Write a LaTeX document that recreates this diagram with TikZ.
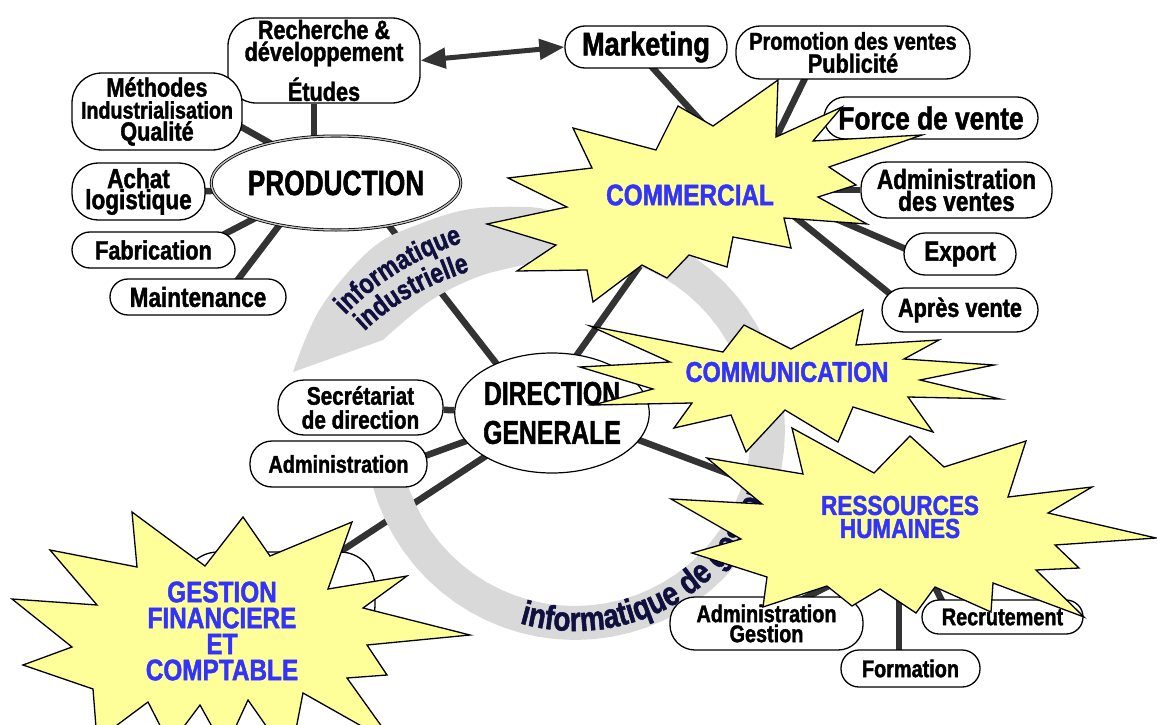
\documentclass[tikz,border=0pt]{standalone}
\usepackage{fontspec}
\newfontfamily\cfa[FakeStretch=0.82,FakeBold=1.5]{Liberation Sans Bold}
\newfontfamily\cfb[FakeStretch=0.75,FakeBold=1.5]{Liberation Sans Bold}
\usetikzlibrary{arrows.meta,decorations.text,shapes.geometric,calc}
\definecolor{linegray}{HTML}{333333}
\definecolor{bandgray}{HTML}{D9D9D9}
\definecolor{staryellow}{HTML}{FFFF99}
\definecolor{starblue}{HTML}{3333FF}
\definecolor{bandnavy}{HTML}{10103F}
\newcommand{\myfs}[2]{\fontsize{#1}{#2}\selectfont}
\newcommand{\bandfont}{\color{bandnavy}\cfa\myfs{34}{34}}
\newcommand{\bandfontb}{\color{bandnavy}\cfa\myfs{28}{28}}
\pgfdeclarelayer{lines}
\pgfdeclarelayer{band}
\pgfdeclarelayer{top}
\pgfsetlayers{lines,band,main,top}
\begin{document}
\begin{tikzpicture}[x=1pt,y=-1pt,
  rbox/.style={draw=black, line width=1.3pt, fill=white, rounded corners=#1, align=center, inner sep=0pt},
  fs/.style 2 args={font=\cfa\myfs{#1}{#2}},
  fsb/.style 2 args={font=\cfb\myfs{#1}{#2}},
  oval/.style={ellipse, draw=black, fill=white, align=center, inner sep=0pt},
  conn/.style={draw=linegray, line width=6.5pt},
  starshape/.style={fill=staryellow, draw=black, line width=1.3pt},
  startext/.style={text=starblue, align=center, inner sep=0pt}]
\useasboundingbox (0,0) rectangle (1157,725);

% ---------- boxes ----------
\node[rbox=28pt, fs={26.4}{22}, minimum width=192pt, minimum height=85pt] (rd) at (324,60.5) {Recherche \&\\développement\\[10pt]Études};
\node[rbox=30pt, fs={26.4}{22}, minimum width=170pt, minimum height=77pt] (meth) at (157,111.5) {Méthodes\\{\myfs{24}{22}Industrialisation}\\Qualité};
\node[rbox=26pt, fs={27.5}{21}, minimum width=133pt, minimum height=57pt] (achat) at (138.5,191.5) {Achat\\logistique};
\node[rbox=18pt, fs={26.4}{26}, minimum width=163pt, minimum height=36pt] (fab) at (153.5,250) {Fabrication};
\node[rbox=18pt, fs={27.5}{27}, minimum width=176pt, minimum height=36pt] (maint) at (198,297) {Maintenance};
\node[oval, fsb={35}{35}, minimum width=212pt, minimum height=94pt, line width=0.8pt, double=gray!50, double distance=1.4pt] (prod) at (336,183) {PRODUCTION};
\node[rbox=20pt, fs={33}{33}, minimum width=162pt, minimum height=42pt] (mkt) at (646,47) {Marketing};
\node[rbox=24pt, fs={24.2}{23}, minimum width=234pt, minimum height=53pt] (promo) at (853,52.5) {Promotion des ventes\\{\myfs{26.4}{23}Publicité}};
\node[rbox=21pt, fs={32}{32}, minimum width=214pt, minimum height=42pt] (force) at (931,118) {Force de vente};
\node[rbox=26pt, fs={27.5}{22}, minimum width=191pt, minimum height=56pt] (admv) at (956.5,190) {Administration\\des ventes};
\node[rbox=21pt, fs={27.5}{27}, minimum width=112pt, minimum height=42pt] (export) at (960,254) {Export};
\node[rbox=22pt, fs={26.4}{26}, minimum width=156pt, minimum height=44pt] (apres) at (960,310) {Après vente};
\node[rbox=26pt, fs={25.3}{24}, minimum width=165pt, minimum height=55pt] (sec) at (360.5,407.5) {Secrétariat\\de direction};
\node[rbox=22pt, fs={24.2}{24}, minimum width=177pt, minimum height=46pt] (adm) at (338.5,464) {Administration};
\node[oval, fsb={33}{39}, minimum width=190pt, minimum height=120pt, line width=1.2pt] (dg) at (552,413) {DIRECTION\\GENERALE};
\node[rbox=25pt, fs={24.2}{20}, minimum width=193pt, minimum height=53pt] (admg) at (766.5,623.5) {Administration\\Gestion};
\node[rbox=18pt, fs={24.2}{24}, minimum width=139pt, minimum height=37pt] (form) at (910.5,668.5) {Formation};
\node[rbox=17pt, fs={24.2}{24}, minimum width=161pt, minimum height=34pt] (recr) at (1002.5,617) {Recrutement};
\node[rbox=35pt, minimum width=192pt, minimum height=88pt] (fin) at (279,596) {};

\coordinate (comm) at (690,195);
\coordinate (commu) at (787,372);
\coordinate (rh) at (900,517);
\coordinate (gf) at (222,631);

% ---------- connectors ----------
\begin{pgfonlayer}{lines}
\draw[conn] ([xshift=-10pt]rd.south) -- ($(prod)+(-22,0)$);
\draw[conn] ($(meth)+(80,13)$) -- ($(prod)+(-36,-23)$);
\draw[conn] ($(achat)+(60,0)$) -- ($(prod)+(-76,6)$);
\draw[conn] ($(fab)+(61.5,-11)$) -- ($(prod)+(-46,17)$);
\draw[conn] ($(maint)+(32,-7)$) -- ($(prod)+(-36,15)$);
\draw[conn] ($(prod)+(33,17)$) -- ($(dg)+(-35,-23)$);
\draw[conn] ($(mkt)+(-5,8)$) -- ($(comm)+(30,-53)$);
\draw[conn] ($(promo)+(-44,17.5)$) -- ($(comm)+(80,-45)$);
\draw[conn] (admv) -- ($(comm)+(128,-5)$);
\draw[conn] ($(export)+(-45,-1)$) -- ($(comm)+(130,17)$);
\draw[conn] ($(apres)+(-55,-4)$) -- ($(comm)+(100,18)$);
\draw[conn] ($(dg)+(-7,-13)$) -- (comm);
\draw[conn] (sec) -- (dg);
\draw[conn] ($(adm)+(61.5,1)$) -- ($(dg)+(-72,23)$);
\draw[conn] ($(dg)+(-47,30.5)$) -- ($(fin)+(41,-31)$);
\draw[conn] ($(dg)+(68,20)$) -- ($(rh)+(0,21)$);
\draw[conn] ($(admg)+(33.5,-23)$) -- ($(rh)+(-40,53)$);
\draw[conn] ($(form)+(-11.5,-8)$) -- ($(rh)+(-1,40)$);
\draw[conn] ($(recr)+(-55,-5)$) -- ($(rh)+(30,60)$);
\draw[linegray, line width=5pt, {Triangle[length=25pt,width=20pt]}-{Triangle[length=25pt,width=20pt]}] (rd.east) -- (mkt.west);
\end{pgfonlayer}

% ---------- grey circular arrow ----------
\begin{pgfonlayer}{band}
\fill[bandgray] plot[samples at={170,165,...,-85}] ({575+210*cos(\x)},{430+210*sin(\x)})
  -- plot[smooth, tension=0.6] coordinates {(555.8,212.8) (531.3,207.2) (471,209) (418.5,224.4) (371.4,248.7) (320.6,307.9) (293,372)}
  -- (383,340)
  -- plot[smooth, tension=0.6] coordinates {(383,340) (430,301) (480,276) (530,264)}
  -- plot[samples at={-105,-100,...,170}] ({575+176*cos(\x)},{430+176*sin(\x)})
  -- cycle;
\path[decorate, decoration={text along path, text={|\bandfont|informatique de gestion}}]
  plot[samples at={106,104,...,-30}] ({575+201*cos(\x)},{430+201*sin(\x)});
\path[decorate, decoration={text along path, text align=center, text={|\bandfontb|informatique}}]
  (320,345) .. controls (360,290) and (420,250) .. (500,232);
\path[decorate, decoration={text along path, text align=center, text={|\bandfontb|industrielle}}]
  (340,358) .. controls (378,310) and (430,278) .. (505,262);
\end{pgfonlayer}

% ---------- stars ----------
\begin{pgfonlayer}{top}
\filldraw[starshape] (678,106) -- (713,126) -- (778,80) -- (776,137) -- (842,107) -- (813,141) -- (922,135) -- (829,167) -- (856,185) -- (818,197) -- (867,224) -- (784,218) -- (791,248) -- (733,237) -- (727,267) -- (689,255) -- (667,278) -- (642,265) -- (593,302) -- (587,270) -- (517,271) -- (556,245) -- (487,224) -- (567,207) -- (508,178) -- (592,168) -- (573,128) -- (656,150) -- cycle;
\node[startext, fs={29.7}{29}] (commt) at (comm) {COMMERCIAL};
\filldraw[starshape] (590,326) -- (723,352) -- (744,325) -- (791,349) -- (863,310) -- (856,345) -- (939,340) -- (904,359) -- (994,365) -- (920,380) -- (1000,399) -- (908,397) -- (933,432) -- (853,407) -- (838,442) -- (785,410) -- (746,452) -- (731,415) -- (674,428) -- (692,403) -- (593,405) -- (653,389) -- (580,367) -- (670,362) -- cycle;
\node[startext, fs={28.6}{28}] (commut) at (commu) {COMMUNICATION};
\filldraw[starshape] (792,428) -- (874,473) -- (910,436) -- (944,467) -- (1026,441) -- (1008,497) -- (1092,487) -- (1048,513) -- (1156,538) -- (1055,545) -- (1079,568) -- (1036,570) -- (1084,617) -- (993,583) -- (991,612) -- (935,587) -- (916,613) -- (880,589) -- (852,606) -- (827,586) -- (763,607) -- (767,577) -- (692,553) -- (741,539) -- (671,499) -- (762,504) -- (707,458) -- (803,474) -- cycle;
\node[startext, fs={27.5}{23}] (rht) at (rh) {RESSOURCES\\HUMAINES};
\filldraw[starshape] (132,512) -- (205,566) -- (243,517) -- (270,556) -- (352,522) -- (328,589) -- (407,576) -- (363,608) -- (470,635) -- (367,645) -- (387,675) -- (347,678) -- (395,745) -- (303,693) -- (290,760) -- (248,700) -- (225,750) -- (200,705) -- (170,745) -- (148,702) -- (97,740) -- (93,689) -- (23,665) -- (72,647) -- (12,599) -- (97,605) -- (50,550) -- (137,567) -- cycle;
\node[startext, fs={29.7}{26}] (gft) at (gf) {GESTION\\FINANCIERE\\ET\\COMPTABLE};
\end{pgfonlayer}
\end{tikzpicture}
\end{document}
